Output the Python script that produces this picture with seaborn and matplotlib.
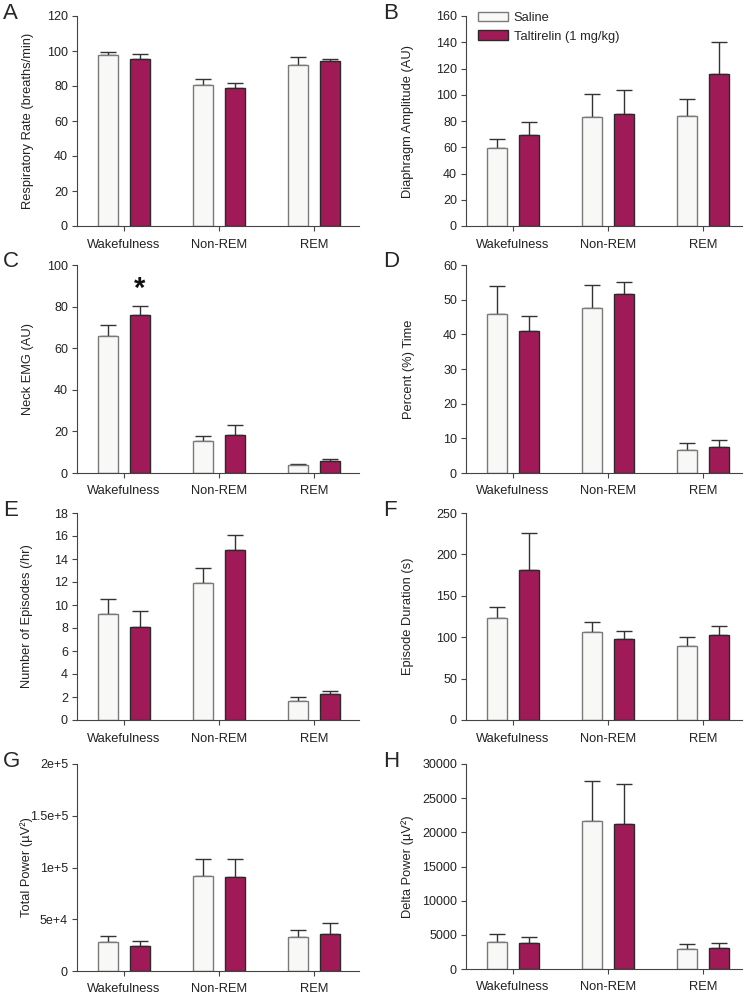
import numpy as np
import pandas as pd
import seaborn as sns
import matplotlib
matplotlib.use("Agg")
import matplotlib.pyplot as plt
from matplotlib.patches import Patch

stages = ["Wakefulness", "Non-REM", "REM"]
groups = ["Saline", "Taltirelin (1 mg/kg)"]

# mean and SEM per panel, order follows stages
resp_saline, resp_saline_sem = [97.5, 80.6, 92.2], [2.1, 3.2, 4.4]
resp_talt, resp_talt_sem = [95.6, 78.9, 94.1], [2.5, 3.0, 1.3]

dia_saline, dia_saline_sem = [59.2, 83.2, 84.0], [7.0, 17.6, 12.7]
dia_talt, dia_talt_sem = [69.0, 85.0, 116.0], [9.9, 18.3, 23.9]

emg_saline, emg_saline_sem = [65.8, 15.4, 3.8], [5.4, 2.4, 0.4]
emg_talt, emg_talt_sem = [75.8, 18.1, 5.8], [4.7, 4.9, 0.9]

pct_saline, pct_saline_sem = [45.8, 47.7, 6.6], [8.0, 6.6, 2.0]
pct_talt, pct_talt_sem = [40.9, 51.6, 7.6], [4.4, 3.4, 1.8]

epi_saline, epi_saline_sem = [9.2, 11.9, 1.65], [1.3, 1.3, 0.38]
epi_talt, epi_talt_sem = [8.1, 14.8, 2.24], [1.4, 1.26, 0.31]

dur_saline, dur_saline_sem = [122.6, 106.8, 89.8], [13.7, 11.3, 10.5]
dur_talt, dur_talt_sem = [181.6, 98.3, 102.3], [43.7, 9.3, 11.8]

tot_saline, tot_saline_sem = [28000, 91700, 32500], [6100, 16900, 7300]
tot_talt, tot_talt_sem = [24200, 91100, 36000], [5100, 17500, 10500]

delta_saline, delta_saline_sem = [4015, 21670, 3000], [1165, 5900, 730]
delta_talt, delta_talt_sem = [3770, 21190, 3050], [970, 5900, 820]

total_power_ticklabels = ["0", "5e+4", "1e+5", "1.5e+5", "2e+5"]

SALINE_FILL, SALINE_EDGE = "#f8f9f6", "#7a7a7a"
TALT_FILL, TALT_EDGE = "#a01a58", "#2a2a2a"
AXIS_COLOR = "#444444"

sns.set_style("ticks")
plt.rcParams["font.family"] = ["Liberation Sans", "DejaVu Sans"]
plt.rcParams["axes.edgecolor"] = AXIS_COLOR
plt.rcParams["xtick.color"] = AXIS_COLOR
plt.rcParams["ytick.color"] = AXIS_COLOR
plt.rcParams["xtick.labelcolor"] = "#222222"
plt.rcParams["ytick.labelcolor"] = "#222222"

W, H = 748, 999
fig = plt.figure(figsize=(W / 100, H / 100), dpi=100)


def make_axes(left, right, top, bottom):
    return fig.add_axes([left / W, 1 - bottom / H, (right - left) / W, (bottom - top) / H])


def draw_panel(ax, sal, sal_sem, tal, tal_sem, ymax, step, ylabel, letter, xright,
               label_x, letter_x, letter_y, ticklabels=None):
    df = pd.DataFrame({
        "stage": stages * 2,
        "group": [groups[0]] * 3 + [groups[1]] * 3,
        "value": list(sal) + list(tal),
    })
    sns.barplot(data=df, x="stage", y="value", hue="group", hue_order=groups,
                palette=[SALINE_FILL, TALT_FILL], saturation=1, width=0.664, gap=0.37,
                errorbar=None, legend=False, ax=ax, zorder=2)
    for cont, edge, sem, mean in zip(ax.containers, [SALINE_EDGE, TALT_EDGE],
                                     [sal_sem, tal_sem], [sal, tal]):
        xs = []
        for bar in cont:
            bar.set_edgecolor(edge)
            bar.set_linewidth(1.0)
            xs.append(bar.get_x() + bar.get_width() / 2)
        ax.errorbar(xs, mean, yerr=[np.zeros(3), sem], fmt="none", ecolor="#333333",
                    elinewidth=1.0, capsize=5.5, capthick=1.0, zorder=1)
    ax.set_xlim(-0.495, xright)
    ax.set_ylim(0, ymax)
    ticks = np.arange(0, ymax + step / 2, step)
    ax.set_yticks(ticks)
    if ticklabels is not None:
        ax.set_yticklabels(ticklabels)
    ax.set_xlabel("")
    ax.set_ylabel(ylabel, fontsize=9.3, color="#222222")
    ax.yaxis.set_label_coords(label_x / W, 0.5)
    ax.yaxis.label.set_transform(matplotlib.transforms.blended_transform_factory(
        fig.transFigure, ax.transAxes))
    ax.tick_params(axis="y", labelsize=9, length=3.5, width=0.8, pad=3)
    ax.tick_params(axis="x", labelsize=9.3, length=3.5, width=0.8, pad=5.5)
    for s in ["left", "bottom"]:
        ax.spines[s].set_linewidth(0.8)
    sns.despine(ax=ax)
    fig.text(letter_x / W, 1 - letter_y / H, letter, fontsize=16, va="top", ha="left")
    return ax


L_LEFT, L_RIGHT = 77, 359
R_LEFT, R_RIGHT = 466, 742
rows = [(16, 226), (265, 473), (513, 720), (764, 971)]
letter_tops = [3, 251, 500, 751]
xr_left = -0.495 + (L_RIGHT - L_LEFT) / 95
xr_right = -0.495 + (R_RIGHT - R_LEFT) / 95

axA = make_axes(L_LEFT, L_RIGHT, *rows[0])
draw_panel(axA, resp_saline, resp_saline_sem, resp_talt, resp_talt_sem, 120, 20,
           "Respiratory Rate (breaths/min)", "A", xr_left, 34, 3, letter_tops[0])
axB = make_axes(R_LEFT, R_RIGHT, *rows[0])
draw_panel(axB, dia_saline, dia_saline_sem, dia_talt, dia_talt_sem, 160, 20,
           "Diaphragm Amplitude (AU)", "B", xr_right, 414, 383, letter_tops[0])
axC = make_axes(L_LEFT, L_RIGHT, *rows[1])
draw_panel(axC, emg_saline, emg_saline_sem, emg_talt, emg_talt_sem, 100, 20,
           "Neck EMG (AU)", "C", xr_left, 34, 3, letter_tops[1])
axD = make_axes(R_LEFT, R_RIGHT, *rows[1])
draw_panel(axD, pct_saline, pct_saline_sem, pct_talt, pct_talt_sem, 60, 10,
           "Percent (%) Time", "D", xr_right, 415, 383, letter_tops[1])
axE = make_axes(L_LEFT, L_RIGHT, *rows[2])
draw_panel(axE, epi_saline, epi_saline_sem, epi_talt, epi_talt_sem, 18, 2,
           "Number of Episodes (/hr)", "E", xr_left, 33, 3, letter_tops[2])
axF = make_axes(R_LEFT, R_RIGHT, *rows[2])
draw_panel(axF, dur_saline, dur_saline_sem, dur_talt, dur_talt_sem, 250, 50,
           "Episode Duration (s)", "F", xr_right, 414, 383, letter_tops[2])
axG = make_axes(L_LEFT, L_RIGHT, *rows[3])
draw_panel(axG, tot_saline, tot_saline_sem, tot_talt, tot_talt_sem, 200000, 50000,
           "Total Power (µV²)", "G", xr_left, 33, 3, letter_tops[3],
           ticklabels=total_power_ticklabels)
axH = make_axes(R_LEFT, R_RIGHT, rows[3][0], 969)
draw_panel(axH, delta_saline, delta_saline_sem, delta_talt, delta_talt_sem, 30000, 5000,
           "Delta Power (µV²)", "H", xr_right, 414, 383, letter_tops[3])

# significance marker over taltirelin wakefulness bar in C
star_x = axC.containers[1][0].get_x() + axC.containers[1][0].get_width() / 2
axC.text(star_x, 84.5, "*", ha="center", va="baseline", fontsize=21, fontweight="bold",
         color="#111111")

handles = [Patch(facecolor=SALINE_FILL, edgecolor=SALINE_EDGE, linewidth=1.0),
           Patch(facecolor=TALT_FILL, edgecolor=TALT_EDGE, linewidth=1.0)]
fig.legend(handles, groups, loc="upper left", bbox_to_anchor=(478 / W, 1 - 12 / H),
           frameon=False, fontsize=9.3, borderpad=0, borderaxespad=0,
           handlelength=2.3, handleheight=0.7, handletextpad=0.45, labelspacing=0.5)

fig.savefig("out.png", dpi=100)
